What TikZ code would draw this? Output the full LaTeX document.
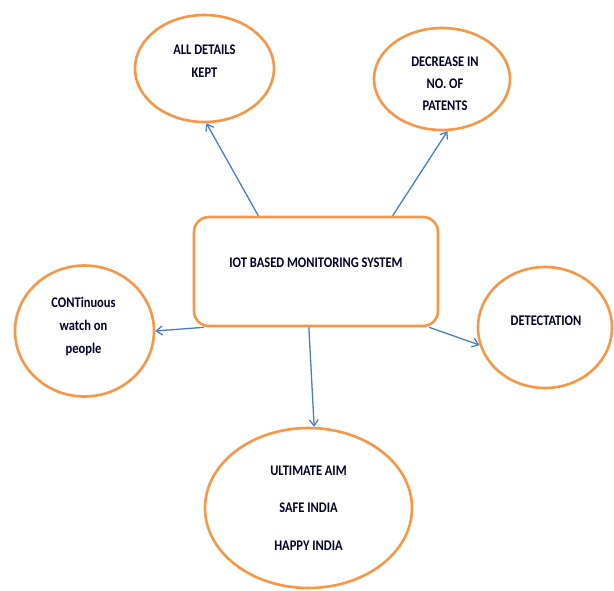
\documentclass[tikz,border=0pt]{standalone}
\usepackage{fontspec}
\setmainfont{Carlito}[FakeStretch=0.85]
\usetikzlibrary{shapes.geometric,arrows.meta,calc}
\definecolor{orng}{HTML}{F79646}
\definecolor{arrblue}{HTML}{4A7EBB}
\tikzset{
  bubble/.style={ellipse,draw=orng,line width=2.6pt,fill=white,inner sep=0pt},
  txt/.style={font=\fontsize{14.7}{23}\selectfont\bfseries,align=center,text=black!85!blue},
  mainbox/.style={rectangle,rounded corners=15pt,draw=orng,line width=2.6pt,fill=white,
    minimum width=244pt,minimum height=109pt,inner sep=0pt},
  arr/.style={draw=arrblue,line width=1.3pt,-{Straight Barb[length=6pt,width=9pt,line width=1.3pt]}}
}
\begin{document}
\begin{tikzpicture}[x=1pt,y=-1pt]
\useasboundingbox (0,0) rectangle (614,590);
\node[mainbox,label={[txt,yshift=9pt]center:IOT BASED MONITORING SYSTEM}] (box) at (316,271.5) {};
\node[bubble,minimum width=139pt,minimum height=107pt,
  label={[txt,yshift=7pt]center:ALL DETAILS\\KEPT}] (e1) at (204.5,68.5) {};
\node[bubble,minimum width=136pt,minimum height=102pt,
  label={[txt,xshift=3pt,yshift=-5pt]center:DECREASE IN\\[-1pt]NO. OF\\[-1pt]PATENTS}] (e2) at (442,79) {};
\node[bubble,minimum width=139pt,minimum height=131pt,
  label={[txt,xshift=-1pt,yshift=4.5pt]center:CONTinuous\\watch on\\people}] (e3) at (84.5,331) {};
\node[bubble,minimum width=134pt,minimum height=121pt,
  label={[txt,xshift=1pt,yshift=7pt]center:DETECTATION}] (e4) at (545,327.5) {};
\node[bubble,minimum width=207pt,minimum height=160pt,
  label={[txt]center:ULTIMATE AIM\\[14.5pt]SAFE INDIA\\[14.5pt]HAPPY INDIA}] (e5) at (308.5,508) {};
\draw[arr] ($(box.north west)!0.266!(box.north east)$) -- (e1.-88);
\draw[arr] ($(box.north west)!0.811!(box.north east)$) -- (e2.-84);
\draw[arr] ($(box.south west)!0.045!(box.south east)$) -- (e3.0);
\draw[arr] ($(box.south west)!0.959!(box.south east)$) -- (e4.195);
\draw[arr] ($(box.south west)!0.471!(box.south east)$) -- (e5.86);
\end{tikzpicture}
\end{document}
